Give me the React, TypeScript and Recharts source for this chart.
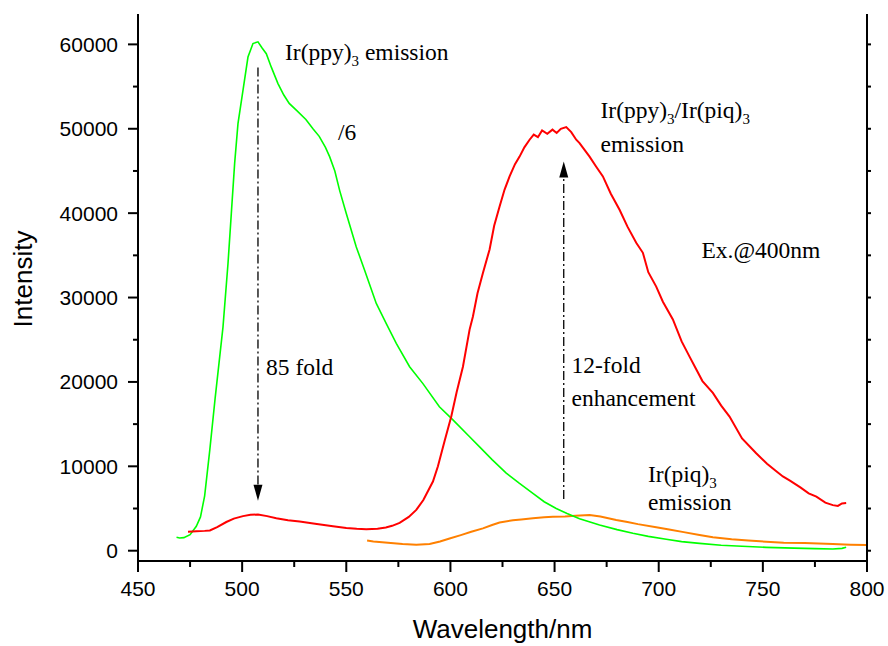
import React from "react";
import { LineChart, Line, XAxis, YAxis, ReferenceLine } from "recharts";

// ---- data (wavelength nm, intensity) ----
const greenX = [468.5, 470, 472, 475, 478, 480, 482, 484.5, 487, 490.8, 493.2, 494.8, 496.4, 498, 500.4, 502.8, 505.2, 507.6, 509.5, 511.6, 514, 517.2, 520, 522.6, 526, 530.6, 534, 537, 540, 542, 544.5, 546.8, 550, 554.8, 558.8, 564.4, 569.2, 574, 580.4, 586.8, 594.7, 601.2, 609.2, 614, 620, 626.8, 633, 639.6, 645, 650.8, 656, 662, 667, 671.6, 680, 687.6, 695, 703.6, 711, 719.6, 730, 740, 751.6, 765, 775, 783.6, 788, 790];
const greenY = [1600, 1500, 1550, 1900, 2900, 4000, 6500, 12000, 18000, 26500, 34000, 39950, 45900, 50600, 54550, 58500, 60100, 60300, 59600, 58900, 57300, 55350, 54000, 53000, 52200, 51100, 50000, 49100, 47800, 46700, 45000, 42700, 39950, 36000, 33240, 29300, 26900, 24560, 21800, 19800, 17050, 15500, 13500, 12300, 10800, 9200, 8000, 6800, 5800, 5000, 4400, 3800, 3400, 3050, 2500, 2060, 1700, 1350, 1080, 870, 650, 530, 400, 300, 250, 200, 280, 400];

const redX = [474, 478, 482, 484.5, 488, 492.4, 496, 500.4, 504, 507.6, 512, 516.4, 522, 527.6, 535, 543.6, 550, 555, 559.6, 565, 569, 572, 575.6, 580, 583.6, 587, 591.6, 594, 597.2, 600.4, 603, 606, 609.2, 610.8, 613, 615.6, 618.8, 621, 623.6, 626, 628.4, 631, 633.2, 635.5, 638, 640, 642, 644, 646.5, 649, 651, 653, 655.6, 658, 660.4, 662, 663.5, 666.8, 670, 673.2, 677, 681.2, 685, 689.2, 692.4, 695, 698.8, 702, 706.8, 711, 714.8, 718, 721, 726, 730, 734, 740, 746.8, 752, 756, 759.6, 763, 768, 772, 775.7, 780, 783.6, 786, 788, 790];
const redY = [2250, 2300, 2350, 2400, 2800, 3400, 3800, 4100, 4250, 4300, 4100, 3850, 3600, 3450, 3200, 2900, 2700, 2600, 2550, 2600, 2750, 2950, 3300, 4000, 4830, 6000, 8200, 10000, 13000, 15900, 18800, 21800, 26200, 27750, 30500, 32900, 35700, 38500, 40800, 42800, 44350, 45800, 46700, 47800, 48700, 49300, 49000, 49800, 49400, 49900, 49500, 50000, 50200, 49600, 48700, 48300, 47800, 46700, 45500, 44350, 42300, 40400, 38400, 36500, 35300, 33000, 31300, 29500, 27400, 24800, 23000, 21500, 20100, 18700, 17200, 15900, 13300, 11550, 10300, 9500, 8800, 8300, 7500, 6800, 6400, 5700, 5400, 5300, 5600, 5650];

const orangeX = [560, 563, 570, 577, 583.6, 590, 595, 599.6, 605, 610, 615.6, 620, 623.6, 630, 634, 639.6, 645, 649.2, 655, 660, 666.8, 672, 679.6, 685, 690, 698.8, 705, 712, 719.6, 726, 735, 743, 751.6, 760, 770, 783.6, 792, 800];
const orangeY = [1200, 1100, 950, 800, 700, 800, 1100, 1450, 1850, 2250, 2650, 3050, 3350, 3600, 3700, 3850, 3950, 4030, 4050, 4150, 4230, 4050, 3650, 3400, 3150, 2770, 2500, 2200, 1860, 1600, 1350, 1200, 1070, 950, 900, 800, 720, 680];

const xTicks = [450, 475, 500, 525, 550, 575, 600, 625, 650, 675, 700, 725, 750, 775, 800];
const yTicks = [0, 5000, 10000, 15000, 20000, 25000, 30000, 35000, 40000, 45000, 50000, 55000, 60000];

// annotation arrows in data coordinates
const arrowDown = [{ x: 507.6, y: 57250 }, { x: 507.6, y: 5930 }];
const arrowUp = [{ x: 654.4, y: 6130 }, { x: 654.4, y: 46130 }];

const zip = (xs: number[], ys: number[]) => xs.map((x, i) => ({ x, y: ys[i] }));
const greenData = zip(greenX, greenY);
const redData = zip(redX, redY);
const orangeData = zip(orangeX, orangeY);

const SANS = "Arial, 'Liberation Sans', sans-serif";
const SERIF = "'Times New Roman', 'Liberation Serif', serif";

const XTick = (p: any) => {
  const { x, y, payload } = p;
  const major = payload.value % 50 === 0;
  return (
    <g>
      <line x1={x} x2={x} y1={y} y2={y + (major ? 11 : 6)} stroke="#000" strokeWidth={2} />
      {major && (
        <text x={x} y={y + 35} textAnchor="middle" fontSize={21} fontFamily={SANS} fill="#000">
          {payload.value}
        </text>
      )}
    </g>
  );
};

const YTickL = (p: any) => {
  const { x, y, payload } = p;
  const major = payload.value % 10000 === 0;
  return (
    <g>
      <line x1={x - (major ? 10 : 5)} x2={x} y1={y} y2={y} stroke="#000" strokeWidth={2} />
      {major && (
        <text x={x - 20} y={y + 7.5} textAnchor="end" fontSize={21} fontFamily={SANS} fill="#000">
          {payload.value}
        </text>
      )}
    </g>
  );
};

const YTickR = (p: any) => {
  const { x, y } = p;
  return <line x1={x} x2={x + 4} y1={y} y2={y} stroke="#000" strokeWidth={2} />;
};

const Arrow = (p: any) => {
  const { x1, y1, x2, y2 } = p;
  const dir = y2 > y1 ? 1 : -1;
  const headLen = 16;
  const headW = 4.5;
  const baseY = y2 - dir * headLen;
  return (
    <g>
      <line x1={x1} y1={y1} x2={x2} y2={baseY} stroke="#000" strokeWidth={1.3} strokeDasharray="9 3 2 3" />
      <polygon points={`${x2},${y2} ${x2 - headW},${baseY} ${x2 + headW},${baseY}`} fill="#000" />
    </g>
  );
};

const Sub = ({ children }: { children: React.ReactNode }) => (
  <tspan fontSize={15} dy={6}>{children}</tspan>
);

export default function App() {
  const axisLine = { stroke: "#000", strokeWidth: 2 };
  const fs = 23.5;
  return (
    <div style={{ position: "absolute", left: 0, top: 0, width: 888, height: 646, background: "#fff" }}>
      <LineChart width={888} height={646} margin={{ top: 14, right: 0, bottom: 0, left: 0 }}>
        <XAxis
          xAxisId="b"
          orientation="bottom"
          type="number"
          dataKey="x"
          domain={[450, 800]}
          allowDataOverflow
          ticks={xTicks}
          interval={0}
          height={85}
          stroke="#000"
          strokeWidth={2}
          axisLine={axisLine}
          tickLine={false}
          tickSize={0}
          tickMargin={0}
          tick={<XTick />}
        />
        <XAxis
          xAxisId="t"
          orientation="top"
          type="number"
          dataKey="x"
          domain={[450, 800]}
          allowDataOverflow
          height={0}
          stroke="#000"
          strokeWidth={2}
          axisLine={axisLine}
          tickLine={false}
          tick={false}
        />
        <YAxis
          yAxisId="l"
          orientation="left"
          type="number"
          domain={[-1220, 63600]}
          allowDataOverflow
          ticks={yTicks}
          interval={0}
          width={138}
          stroke="#000"
          strokeWidth={2}
          axisLine={axisLine}
          tickLine={false}
          tickSize={0}
          tickMargin={0}
          tick={<YTickL />}
        />
        <YAxis
          yAxisId="r"
          orientation="right"
          type="number"
          domain={[-1220, 63600]}
          allowDataOverflow
          ticks={yTicks}
          interval={0}
          width={21}
          stroke="#000"
          strokeWidth={2}
          axisLine={axisLine}
          tickLine={false}
          tickSize={0}
          tickMargin={0}
          tick={<YTickR />}
        />
        <Line xAxisId="b" yAxisId="l" data={orangeData} dataKey="y" stroke="#ff8000" strokeWidth={2} dot={false} isAnimationActive={false} />
        <Line xAxisId="b" yAxisId="l" data={greenData} dataKey="y" stroke="#00ff00" strokeWidth={1.6} dot={false} isAnimationActive={false} />
        <Line xAxisId="b" yAxisId="l" data={redData} dataKey="y" stroke="#ff0000" strokeWidth={2} dot={false} isAnimationActive={false} />
        <ReferenceLine xAxisId="b" yAxisId="l" segment={arrowDown} shape={<Arrow />} />
        <ReferenceLine xAxisId="b" yAxisId="l" segment={arrowUp} shape={<Arrow />} />
      </LineChart>
      <svg width={888} height={646} style={{ position: "absolute", left: 0, top: 0, pointerEvents: "none" }}>
        <g fontFamily={SERIF} fontSize={fs} fill="#000">
          <text x={285} y={60}>
            Ir(ppy)<Sub>3</Sub>
            <tspan dy={-6}>{" emission"}</tspan>
          </text>
          <text x={338} y={140}>/6</text>
          <text x={600.5} y={118}>
            Ir(ppy)<Sub>3</Sub>
            <tspan dy={-6}>/Ir(piq)</tspan>
            <Sub>3</Sub>
          </text>
          <text x={600.5} y={151.5}>emission</text>
          <text x={701.5} y={258}>Ex.@400nm</text>
          <text x={266} y={375}>85 fold</text>
          <text x={571.5} y={373}>12-fold</text>
          <text x={571.5} y={406}>enhancement</text>
          <text x={648} y={481.5}>
            Ir(piq)<Sub>3</Sub>
          </text>
          <text x={648} y={510}>emission</text>
        </g>
        <text x={502.5} y={638} textAnchor="middle" fontFamily={SANS} fontSize={26} fill="#000">
          Wavelength/nm
        </text>
        <text
          x={32}
          y={279}
          textAnchor="middle"
          fontFamily={SANS}
          fontSize={26}
          fill="#000"
          transform="rotate(-90, 32, 279)"
        >
          Intensity
        </text>
      </svg>
    </div>
  );
}
